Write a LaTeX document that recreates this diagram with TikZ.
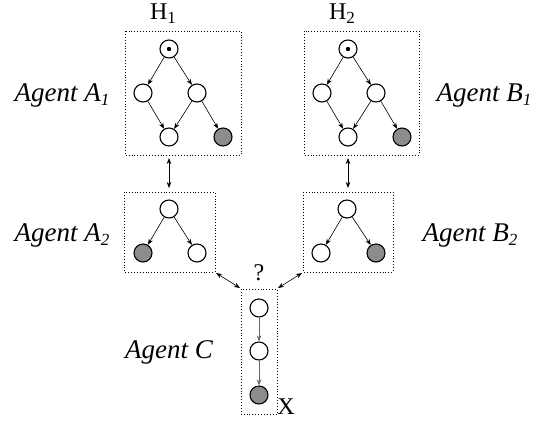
\documentclass[tikz,border=0pt]{standalone}
\usepackage{fontspec}
\setmainfont{Liberation Serif}
\usetikzlibrary{arrows.meta}
\begin{document}
\begin{tikzpicture}[x=1pt,y=-1pt,
  vnode/.style={circle,draw,line width=1.1pt,minimum size=18pt,inner sep=0pt,fill=white},
  obs/.style={vnode,fill=black!45},
  edge/.style={-{Stealth[length=6pt,width=4.5pt]},line width=0.6pt},
  cedge/.style={edge,draw=black!60},
  bi/.style={{Stealth[length=6pt,width=4.5pt]}-{Stealth[length=6pt,width=4.5pt]},line width=0.6pt},
  agbox/.style={draw,dotted,line width=0.9pt},
  lab/.style={font=\fontsize{27}{30}\selectfont\itshape,inner sep=0pt},
  txt/.style={font=\fontsize{24}{28}\selectfont,inner sep=0pt}]
\useasboundingbox (0,0) rectangle (548,424);
\newcommand{\sbi}[1]{\raisebox{-0.35ex}{\fontsize{17}{17}\selectfont #1}}
% boxes
\coordinate (a1nw) at (125,31); \coordinate (a1se) at (241,155);
\coordinate (b1nw) at (304,31); \coordinate (b1se) at (419,155);
\coordinate (a2nw) at (124,192); \coordinate (a2se) at (215,272);
\coordinate (b2nw) at (303,192); \coordinate (b2se) at (393,272);
\coordinate (cnw) at (241,289); \coordinate (cse) at (277,414);
\draw[agbox] (a1nw) rectangle (a1se);
\draw[agbox] (b1nw) rectangle (b1se);
\draw[agbox] (a2nw) rectangle (a2se);
\draw[agbox] (b2nw) rectangle (b2se);
\draw[agbox] (cnw) rectangle (cse);
% Agent A1
\node[vnode] (a1t) at (169,49) {};
\fill (a1t.center) circle (2.2pt);
\node[vnode] (a1l) at (143,93) {};
\node[vnode] (a1r) at (197,93) {};
\node[vnode] (a1bl) at (169,137) {};
\node[obs] (a1br) at (223,137) {};
\draw[edge] (a1t) -- (a1l);
\draw[edge] (a1t) -- (a1r);
\draw[edge] (a1l) -- (a1bl);
\draw[edge] (a1r) -- (a1bl);
\draw[edge] (a1r) -- (a1br);
% Agent B1
\node[vnode] (b1t) at (348,49) {};
\fill (b1t.center) circle (2.2pt);
\node[vnode] (b1l) at (322,93) {};
\node[vnode] (b1r) at (376,93) {};
\node[vnode] (b1bl) at (348,137) {};
\node[obs] (b1br) at (402,137) {};
\draw[edge] (b1t) -- (b1l);
\draw[edge] (b1t) -- (b1r);
\draw[edge] (b1l) -- (b1bl);
\draw[edge] (b1r) -- (b1bl);
\draw[edge] (b1r) -- (b1br);
% Agent A2
\node[vnode] (a2t) at (169,209) {};
\node[obs] (a2l) at (143,253) {};
\node[vnode] (a2r) at (197,253) {};
\draw[edge] (a2t) -- (a2l);
\draw[edge] (a2t) -- (a2r);
% Agent B2
\node[vnode] (b2t) at (347,209) {};
\node[vnode] (b2l) at (321,253) {};
\node[obs] (b2r) at (376,253) {};
\draw[edge] (b2t) -- (b2l);
\draw[edge] (b2t) -- (b2r);
% Agent C
\node[vnode] (c1) at (259,308) {};
\node[vnode] (c2) at (259,351) {};
\node[obs] (c3) at (259,395) {};
\draw[cedge] (c1) -- (c2);
\draw[cedge] (c2) -- (c3);
% inter-box arrows
\coordinate (a1b) at (169,158); \coordinate (a2tp) at (169,188);
\coordinate (b1b) at (348,158); \coordinate (b2tp) at (348,188);
\draw[bi] (a1b) -- (a2tp);
\draw[bi] (b1b) -- (b2tp);
\coordinate (a2c) at (216,273); \coordinate (cl) at (240,288);
\coordinate (b2c) at (302,273); \coordinate (cr) at (278,288);
\draw[bi] (a2c) -- (cl);
\draw[bi] (b2c) -- (cr);
% labels
\node[txt] (h1) at (163,14) {H\sbi{1}};
\node[txt] (h2) at (342,14) {H\sbi{2}};
\node[txt] (q) at (259,273) {?};
\node[txt] (x) at (286,407) {X};
\node[lab] (la1) at (62,95) {Agent A\sbi{\itshape 1}};
\node[lab] (lb1) at (484,95) {Agent B\sbi{\itshape 1}};
\node[lab] (la2) at (62,235) {Agent A\sbi{2}};
\node[lab] (lb2) at (470,235) {Agent B\sbi{2}};
\node[lab] (lc) at (169,352) {Agent C};
\end{tikzpicture}
\end{document}
